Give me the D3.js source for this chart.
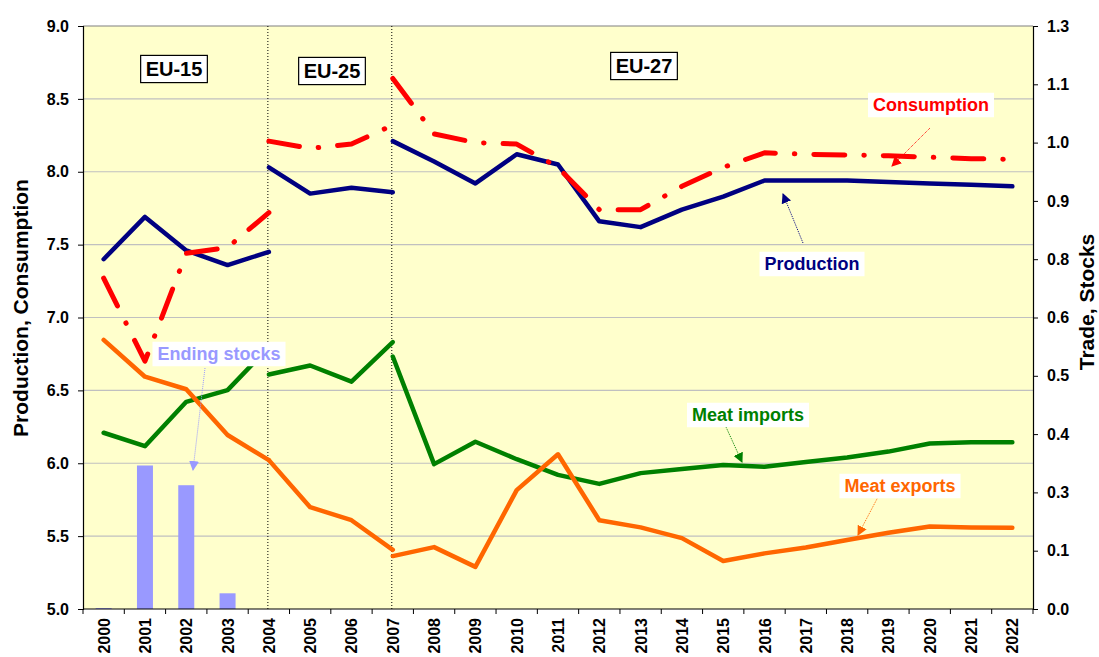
<!DOCTYPE html>
<html>
<head>
<meta charset="utf-8">
<script src="https://cdn.jsdelivr.net/npm/d3@7"></script>
<style>
  body { margin: 0; background: #ffffff; }
  svg text { font-family: "Liberation Sans", Arial, sans-serif; font-weight: bold; }
</style>
</head>
<body>
<div id="chart"></div>
<script>

// ---- data ----
var years = ["2000","2001","2002","2003","2004","2005","2006","2007","2008","2009","2010",
             "2011","2012","2013","2014","2015","2016","2017","2018","2019","2020","2021","2022"];

// EU-15: 2000-2004, EU-25: 2004-2007, EU-27: 2007-2022
var yearsEU15 = ["2000","2001","2002","2003","2004"];
var yearsEU25 = ["2004","2005","2006","2007"];
var yearsEU27 = years.slice(7);

var productionEU15 = [7.40, 7.69, 7.46, 7.36, 7.45];
var productionEU25 = [8.03, 7.85, 7.89, 7.86];
var productionEU27 = [8.21, 8.07, 7.92, 8.12, 8.05, 7.66, 7.62, 7.74, 7.83, 7.94, 7.94, 7.94, 7.93, 7.92, 7.91, 7.90];

var consumptionEU15 = [7.27, 6.70, 7.44, 7.48, 7.72];
var consumptionEU25 = [8.21, 8.16, 8.19, 8.32];
var consumptionEU27 = [8.64, 8.26, 8.20, 8.19, 8.03, 7.74, 7.74, 7.90, 8.03, 8.13, 8.12, 8.115, 8.11, 8.10, 8.09, 8.085];

var importsEU15 = [0.393, 0.363, 0.462, 0.488, 0.584];
var importsEU25 = [0.523, 0.543, 0.507, 0.595];
var importsEU27 = [0.563, 0.323, 0.373, 0.334, 0.299, 0.279, 0.303, 0.312, 0.321, 0.317, 0.328, 0.338, 0.351, 0.369, 0.372, 0.372];

var exportsEU15 = [0.600, 0.518, 0.490, 0.388, 0.332];
var exportsEU25 = [0.332, 0.227, 0.198, 0.132];
var exportsEU27 = [0.118, 0.138, 0.094, 0.265, 0.345, 0.198, 0.182, 0.158, 0.107, 0.124, 0.137, 0.154, 0.170, 0.184, 0.182, 0.181];

var stockYears = ["2000","2001","2002","2003"];
var endingStocks = [0.002, 0.320, 0.276, 0.035];

var leftTicks = [5.0, 5.5, 6.0, 6.5, 7.0, 7.5, 8.0, 8.5, 9.0];
var rightTickValues = [0, 0.13, 0.26, 0.39, 0.52, 0.65, 0.78, 0.91, 1.04, 1.17, 1.3];
var rightTickLabels = ["0.0","0.1","0.3","0.4","0.5","0.6","0.8","0.9","1.0","1.1","1.3"];

var boundaryYears = ["2004", "2007"];

// ---- layout ----
var margin = {top: 26, right: 66, bottom: 48, left: 83};
var width = 1099 - margin.left - margin.right;
var height = 657 - margin.top - margin.bottom;

var svg = d3.select("#chart").append("svg")
    .attr("width", 1099)
    .attr("height", 657);

var defs = svg.append("defs");

var g = svg.append("g")
    .attr("transform", "translate(" + margin.left + "," + margin.top + ")");

// scales
var x = d3.scaleBand().domain(years).range([0, width]).padding(0);
var yLeft = d3.scaleLinear().domain([5, 9]).range([height, 0]);
var yRight = d3.scaleLinear().domain([0, 1.3]).range([height, 0]);

function cx(yr) { return x(yr) + x.bandwidth() / 2; }

// plot background
g.append("rect")
    .attr("width", width)
    .attr("height", height)
    .attr("fill", "#FFFFCC");

// gridlines
g.selectAll(".grid")
    .data(leftTicks.slice(1, -1))
    .enter().append("line")
    .attr("class", "grid")
    .attr("x1", 0).attr("x2", width)
    .attr("y1", d => yLeft(d)).attr("y2", d => yLeft(d))
    .attr("stroke", "#C0C0C0")
    .attr("stroke-width", 1.2);

// top border
g.append("line")
    .attr("x1", 0).attr("x2", width)
    .attr("y1", 0).attr("y2", 0)
    .attr("stroke", "#808080")
    .attr("stroke-width", 1.2);

// vertical dotted separators
g.selectAll(".sep")
    .data(boundaryYears)
    .enter().append("line")
    .attr("class", "sep")
    .attr("x1", d => cx(d) - 1).attr("x2", d => cx(d) - 1)
    .attr("y1", 0).attr("y2", height)
    .attr("stroke", "#000")
    .attr("stroke-width", 1)
    .attr("stroke-dasharray", "1,2");

// ending stocks bars
g.selectAll(".stock")
    .data(stockYears.map((yr, i) => ({year: yr, value: endingStocks[i]})))
    .enter().append("rect")
    .attr("class", "stock")
    .attr("x", d => cx(d.year) - 8)
    .attr("width", 16)
    .attr("y", d => yRight(d.value))
    .attr("height", d => height - yRight(d.value))
    .attr("fill", "#9999FF");

// lines
function segment(yrs, vals) {
    return yrs.map((yr, i) => ({year: yr, value: vals[i]}));
}

var lineLeft = d3.line().x(d => cx(d.year)).y(d => yLeft(d.value));
var lineRight = d3.line().x(d => cx(d.year)).y(d => yRight(d.value));

var series = [
    {name: "imports", gen: lineRight, color: "#008000", width: 4.5, dash: null,
     segs: [segment(yearsEU15, importsEU15), segment(yearsEU25, importsEU25), segment(yearsEU27, importsEU27)]},
    {name: "exports", gen: lineRight, color: "#FF6600", width: 4.5, dash: null,
     segs: [segment(yearsEU15, exportsEU15), segment(yearsEU25, exportsEU25), segment(yearsEU27, exportsEU27)]},
    {name: "production", gen: lineLeft, color: "#000080", width: 4.5, dash: null,
     segs: [segment(yearsEU15, productionEU15), segment(yearsEU25, productionEU25), segment(yearsEU27, productionEU27)]},
    {name: "consumption", gen: lineLeft, color: "#FF0000", width: 5, dash: "31,19,0.5,19",
     segs: [segment(yearsEU15, consumptionEU15), segment(yearsEU25, consumptionEU25), segment(yearsEU27, consumptionEU27)]}
];

series.forEach(s => {
    g.selectAll(".line-" + s.name)
        .data(s.segs)
        .enter().append("path")
        .attr("class", "line-" + s.name)
        .attr("d", s.gen)
        .attr("fill", "none")
        .attr("stroke", s.color)
        .attr("stroke-width", s.width)
        .attr("stroke-linecap", "round")
        .attr("stroke-linejoin", "round")
        .attr("stroke-dasharray", s.dash);
});

// axes
var leftAxis = g.append("g")
    .attr("class", "axis")
    .call(d3.axisLeft(yLeft).tickValues(leftTicks).tickFormat(d3.format(".1f")).tickSize(5).tickPadding(9));

var rightAxis = g.append("g")
    .attr("class", "axis")
    .attr("transform", "translate(" + width + ",0)")
    .call(d3.axisRight(yRight).tickValues(rightTickValues)
        .tickFormat((d, i) => rightTickLabels[i]).tickSize(5).tickPadding(9));

var bottomAxis = g.append("g")
    .attr("class", "axis")
    .attr("transform", "translate(0," + height + ")");

bottomAxis.append("line")
    .attr("x1", 0).attr("x2", width)
    .attr("stroke", "#000").attr("stroke-width", 1.2);

bottomAxis.selectAll(".xtick")
    .data(years.concat(["end"]))
    .enter().append("line")
    .attr("class", "xtick")
    .attr("x1", d => d == "end" ? width : x(d))
    .attr("x2", d => d == "end" ? width : x(d))
    .attr("y1", 0).attr("y2", 5)
    .attr("stroke", "#000");

bottomAxis.selectAll(".xlabel")
    .data(years)
    .enter().append("text")
    .attr("class", "xlabel")
    .text(d => d)
    .attr("transform", d => "translate(" + (cx(d) + 6) + ",9) rotate(-90)")
    .attr("text-anchor", "end")
    .attr("font-size", 16)
    .attr("fill", "#000");

svg.selectAll(".axis .domain").attr("stroke", "#000").attr("stroke-width", 1.2);
svg.selectAll(".axis .tick line").attr("stroke", "#000");
svg.selectAll(".axis .tick text")
    .attr("font-size", 16)
    .attr("font-family", "'Liberation Sans', Arial, sans-serif")
    .attr("font-weight", "bold")
    .attr("fill", "#000");

// axis titles
svg.append("text")
    .text("Production, Consumption")
    .attr("transform", "translate(28,308) rotate(-90)")
    .attr("text-anchor", "middle")
    .attr("font-size", 21)
    .attr("fill", "#000");

svg.append("text")
    .text("Trade, Stocks")
    .attr("transform", "translate(1094,302) rotate(-90)")
    .attr("text-anchor", "middle")
    .attr("font-size", 21)
    .attr("fill", "#000");

// annotations
function arrowMarker(id, color) {
    defs.append("marker")
        .attr("id", id)
        .attr("viewBox", "0 0 10 10")
        .attr("refX", 9).attr("refY", 5)
        .attr("markerWidth", 10).attr("markerHeight", 10)
        .attr("markerUnits", "userSpaceOnUse")
        .attr("orient", "auto")
        .append("path")
        .attr("d", "M0,0 L10,5 L0,10 z")
        .attr("fill", color);
}

function arrow(id, color, x1, y1, x2, y2) {
    arrowMarker(id, color);
    svg.append("line")
        .attr("x1", x1).attr("y1", y1)
        .attr("x2", x2).attr("y2", y2)
        .attr("stroke", color)
        .attr("stroke-width", 1)
        .attr("stroke-dasharray", "1,1")
        .attr("marker-end", "url(#" + id + ")");
}

function label(txt, cxp, cyp, color, size, border) {
    var grp = svg.append("g");
    var t = grp.append("text")
        .text(txt)
        .attr("x", cxp).attr("y", cyp)
        .attr("text-anchor", "middle")
        .attr("dominant-baseline", "central")
        .attr("font-size", size)
        .attr("fill", color);
    var bb = t.node().getBBox();
    grp.insert("rect", "text")
        .attr("x", bb.x - 5).attr("y", cyp - size * 0.68)
        .attr("width", bb.width + 10).attr("height", size * 1.36)
        .attr("fill", "#fff")
        .attr("stroke", border ? "#000" : "none")
        .attr("stroke-width", 1.2);
}

arrow("a-cons", "#FF0000", 930, 128, 892, 166);
arrow("a-prod", "#000080", 803, 243, 783, 194);
arrow("a-imp", "#008000", 726, 427, 742, 462);
arrow("a-exp", "#FF6600", 878, 497, 858, 535);
arrow("a-stock", "#9999FF", 205, 368, 193, 470);

label("Consumption", 931, 105, "#FF0000", 18, false);
label("Production", 812, 264, "#000080", 18, false);
label("Meat imports", 748, 415, "#008000", 18, false);
label("Meat exports", 900, 486, "#FF6600", 18, false);
label("Ending stocks", 219, 354, "#9999FF", 18, false);

label("EU-15", 174, 69, "#000", 20, true);
label("EU-25", 332, 71, "#000", 20, true);
label("EU-27", 644, 66, "#000", 20, true);

</script>
</body>
</html>
